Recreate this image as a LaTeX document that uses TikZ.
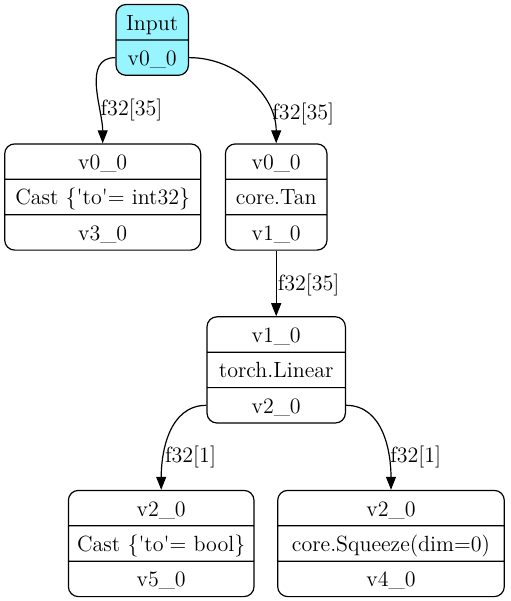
\documentclass[tikz,border=0pt]{standalone}
\usetikzlibrary{shapes.multipart,arrows.meta}
\definecolor{inputcyan}{HTML}{98F5FF}
\tikzset{every path/.style={semithick}}
\tikzset{
  record/.style={draw, rectangle split, rectangle split parts=3,
    rounded corners=5pt, inner ysep=0pt, inner xsep=3pt,
    font=\fontsize{11}{13}\selectfont},
  flow/.style={-{Triangle[length=6.5pt,width=5pt]}},
  lbl/.style={right, inner sep=0.5pt, font=\fontsize{11}{13}\selectfont}
}
\newcommand{\recrow}{\rule[-4.6pt]{0pt}{17.1pt}}
\newcommand{\q}{\textquotesingle}

\begin{document}
\begin{tikzpicture}[x=0.5pt,y=-0.5pt]
    \useasboundingbox (0,0) rectangle (510,601);

    \node[record, rectangle split parts=2, fill=inputcyan, minimum width=36.2pt] (in) at (152.2,39.9)
      {\recrow Input \nodepart{two}\recrow v0\_0};

    \node[record, minimum width=98pt] (cast1) at (102.7,197)
      {\recrow v0\_0 \nodepart{two}\recrow Cast \{\q to\q= int32\} \nodepart{three}\recrow v3\_0};
    \node[record, minimum width=50.8pt] (tan) at (276.2,197)
      {\recrow v0\_0 \nodepart{two}\recrow core.Tan \nodepart{three}\recrow v1\_0};

    \node[record, minimum width=69.2pt] (lin) at (276.2,369.9)
      {\recrow v1\_0 \nodepart{two}\recrow torch.Linear \nodepart{three}\recrow v2\_0};

    \node[record, minimum width=92.8pt] (cast2) at (161.2,543.5)
      {\recrow v2\_0 \nodepart{two}\recrow Cast \{\q to\q= bool\} \nodepart{three}\recrow v5\_0};
    \node[record, minimum width=113.3pt] (sq) at (391,543.5)
      {\recrow v2\_0 \nodepart{two}\recrow core.Squeeze(dim=0) \nodepart{three}\recrow v4\_0};

    \draw[flow] (in.two west) to[out=180, in=90] node[lbl, pos=0.7] {f32[35]} (cast1.north);
    \draw[flow] (in.two east) to[out=0, in=90] node[lbl, pos=0.78] {f32[35]} (tan.north);
    \draw[flow] (tan) -- node[lbl, pos=0.52] {f32[35]} (lin);
    \draw[flow] (lin.three west) to[out=180, in=90] node[lbl, pos=0.72] {f32[1]} (cast2.north);
    \draw[flow] (lin.three east) to[out=0, in=90] node[lbl, pos=0.72] {f32[1]} (sq.north);
  \end{tikzpicture}
\end{document}
